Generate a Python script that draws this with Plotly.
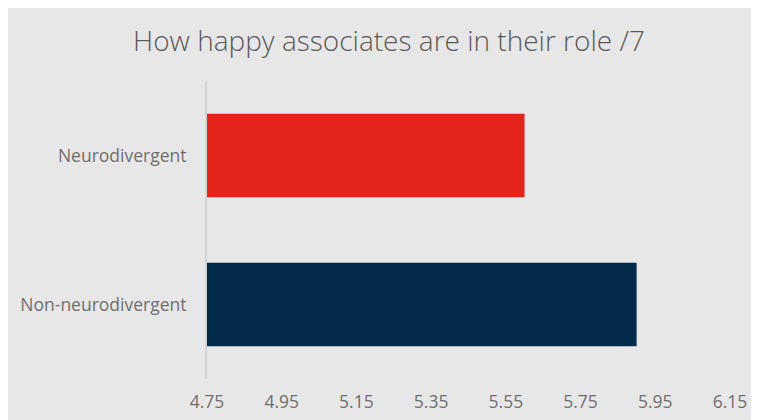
import plotly.graph_objects as go

categories = ["Neurodivergent", "Non-neurodivergent"]
values = [5.60, 5.90]
bar_colors = ["#e3241a", "#022b4a"]
tick_vals = [4.75, 4.95, 5.15, 5.35, 5.55, 5.75, 5.95, 6.15]
tick_text = ["4.75", "4.95", "5.15", "5.35", "5.55", "5.75", "5.95", "6.15"]
title_text = "How happy associates are in their role /7"

fig = go.Figure(
    go.Bar(
        y=categories,
        x=values,
        orientation="h",
        marker=dict(color=bar_colors, line=dict(width=0)),
        hoverinfo="x+y",
    )
)

W, H = 751, 412
fig.update_layout(
    width=W,
    height=H,
    paper_bgcolor="#e7e7e7",
    plot_bgcolor="#e7e7e7",
    margin=dict(l=199, r=W - 199 - 523, t=73, b=41),
    bargap=0.44,
    showlegend=False,
    title=dict(
        text=title_text,
        x=(389 - 8) / W,
        xanchor="center",
        y=1 - 33 / H,
        yanchor="middle",
        font=dict(family="Open Sans", size=28, color="#5a5a5a", weight=300),
    ),
    font=dict(family="Open Sans", color="#6f6f6f"),
)

fig.update_xaxes(
    range=[4.75, 6.15],
    tickvals=tick_vals,
    ticktext=tick_text,
    showgrid=False,
    zeroline=False,
    showline=False,
    automargin=False,
    ticks="outside",
    ticklen=7,
    tickcolor="rgba(0,0,0,0)",
    tickfont=dict(family="Open Sans", size=17.5, color="#6f6f6f"),
)

fig.update_yaxes(
    categoryorder="array",
    categoryarray=categories,
    autorange="reversed",
    showgrid=False,
    zeroline=False,
    showline=True,
    automargin=False,
    linecolor="#d2d2d2",
    linewidth=2,
    ticks="",
    ticklabelstandoff=15,
    tickfont=dict(family="Open Sans", size=17.5, color="#6f6f6f"),
)

fig.write_html("out.html")
